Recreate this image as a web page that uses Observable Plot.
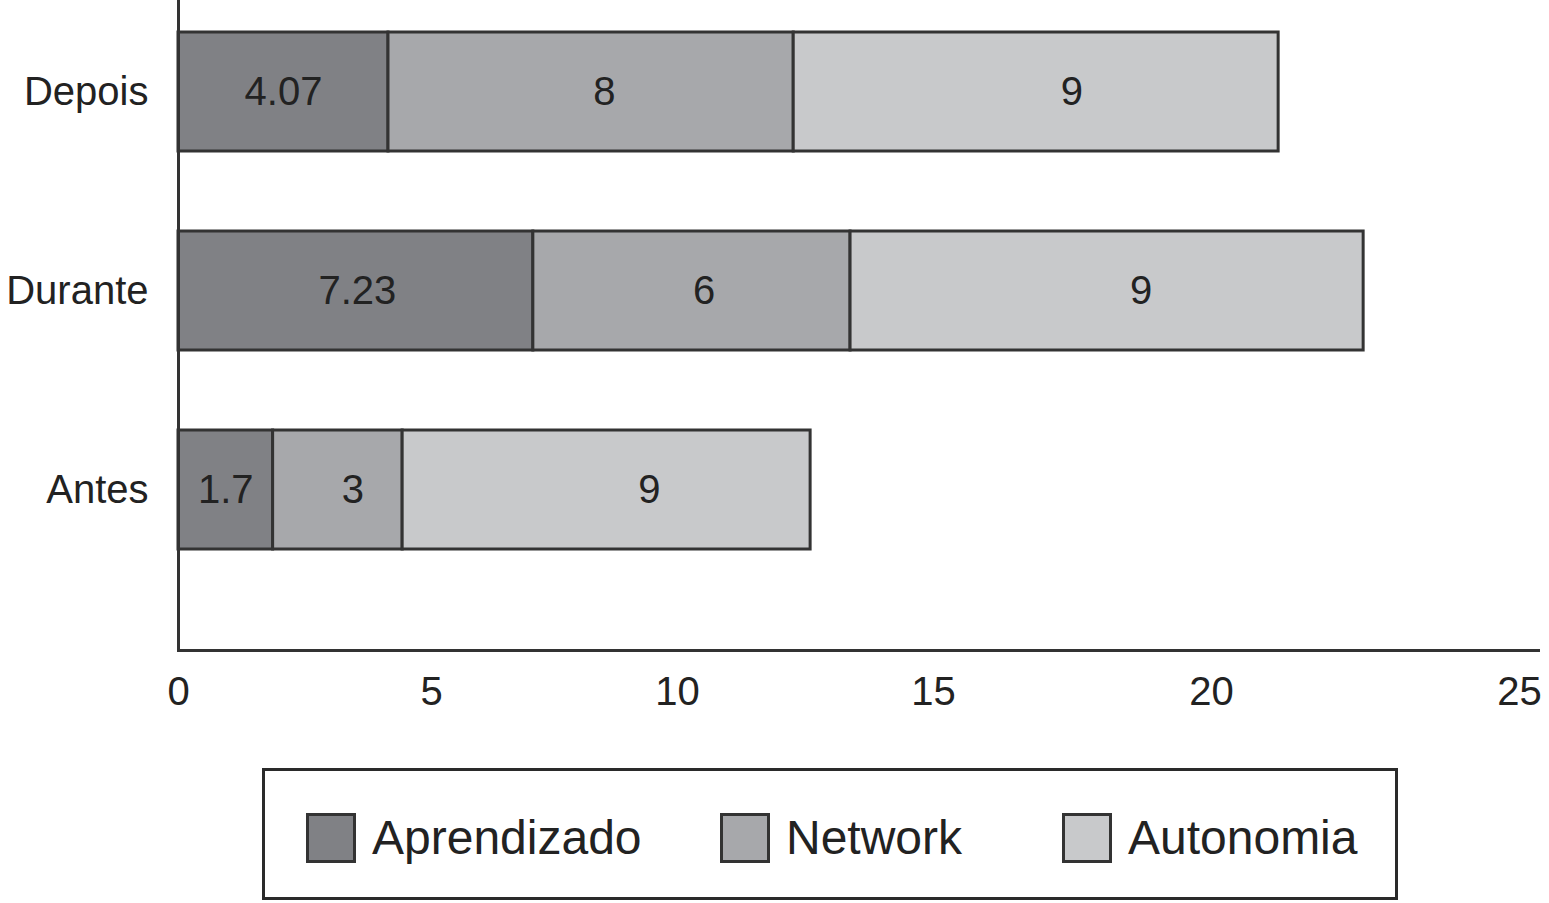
<!DOCTYPE html>
<html>
<head>
<meta charset="utf-8">
<script src="https://cdn.jsdelivr.net/npm/d3@7"></script>
<script src="https://cdn.jsdelivr.net/npm/@observablehq/plot@0.6"></script>
<style>
  body { margin: 0; background: #fff; font-family: "Liberation Sans", Arial, Helvetica, sans-serif; }
  #chart { position: absolute; left: 0; top: 0; }
  #legend { position: absolute; left: 262px; top: 768px; width: 1130px; height: 126px; border: 3px solid #2a2a2a; background: #fff; }
  .item { position: absolute; top: 42px; display: flex; align-items: center; height: 50px; }
  .sw { width: 44px; height: 44px; border: 3px solid #333; }
  .lab { font-size: 48px; color: #222; margin-left: 16px; line-height: 50px; }
</style>
</head>
<body>
<div id="chart"></div>
<div id="legend"></div>
<script>
// ---- data ----
const categories = ["Depois", "Durante", "Antes"];
const series = ["Aprendizado", "Network", "Autonomia"];
// segment lengths as drawn in the picture
const aprendizado = [4.15, 7.07, 1.87];
const network = [8.12, 6.31, 2.56];
const autonomia = [8.82, 9.09, 8.17];
// printed labels
const aprendizadoLabels = ["4.07", "7.23", "1.7"];
const networkLabels = ["8", "6", "3"];
const autonomiaLabels = ["9", "9", "9"];
const xTicks = [0, 5, 10, 15, 20, 25];
const colors = ["#808185", "#a7a8ab", "#c8c9cb"];

const values = [aprendizado, network, autonomia];
const labels = [aprendizadoLabels, networkLabels, autonomiaLabels];
const data = categories.flatMap((c, i) =>
  series.map((s, j) => ({category: c, series: s, value: values[j][i], label: labels[j][i]}))
);

// the printed axis is not evenly spaced: a piecewise-linear warp of the value axis
const tickPx = [178, 431, 677, 933, 1211, 1519];
const warp = d3.scaleLinear().domain(xTicks).range(tickPx.map(p => (p - 178) / (1519 - 178) * 25));
const xMax = 25 * (1538 - 178) / (1519 - 178);

const labelDx = [0, 15, 45];
const font = "'Liberation Sans', Arial, Helvetica, sans-serif";

const chart = Plot.plot({
  width: 1549,
  height: 740,
  marginTop: 0,
  marginLeft: 178,
  marginRight: 11,
  marginBottom: 90,
  style: {fontSize: "40px", fontFamily: font, color: "#222", background: "#fff"},
  x: {
    type: "linear",
    transform: warp,
    domain: [0, xMax],
    axis: null
  },
  y: {
    domain: categories,
    range: [-49, 631],
    padding: 0.4,
    tickSize: 0,
    tickPadding: 30,
    label: null
  },
  color: {domain: series, range: colors},
  marks: [
    Plot.barX(data, Plot.stackX({x: "value", y: "category", fill: "series", stroke: "#333", strokeWidth: 3})),
    ...series.map((s, j) =>
      Plot.text(data, Plot.stackX({
        x: "value", y: "category",
        text: d => (d.series === s ? d.label : ""),
        fill: "#222", fontSize: 40, dx: labelDx[j]
      }))
    ),
    Plot.text(xTicks, {x: d => d, text: d => String(d), frameAnchor: "bottom", lineAnchor: "middle", dy: 42, fontSize: 40, fill: "#222"}),
    Plot.frame({anchor: "left", stroke: "#333", strokeWidth: 3}),
    Plot.frame({anchor: "bottom", stroke: "#333", strokeWidth: 3})
  ]
});
document.getElementById("chart").appendChild(chart);

// ---- legend ----
const legend = document.getElementById("legend");
const lefts = [41, 455, 797];
series.forEach((s, i) => {
  const item = document.createElement("div");
  item.className = "item";
  item.style.left = lefts[i] + "px";
  const sw = document.createElement("div");
  sw.className = "sw";
  sw.style.background = colors[i];
  const lab = document.createElement("span");
  lab.className = "lab";
  lab.textContent = s;
  item.appendChild(sw);
  item.appendChild(lab);
  legend.appendChild(item);
});
</script>
</body>
</html>
